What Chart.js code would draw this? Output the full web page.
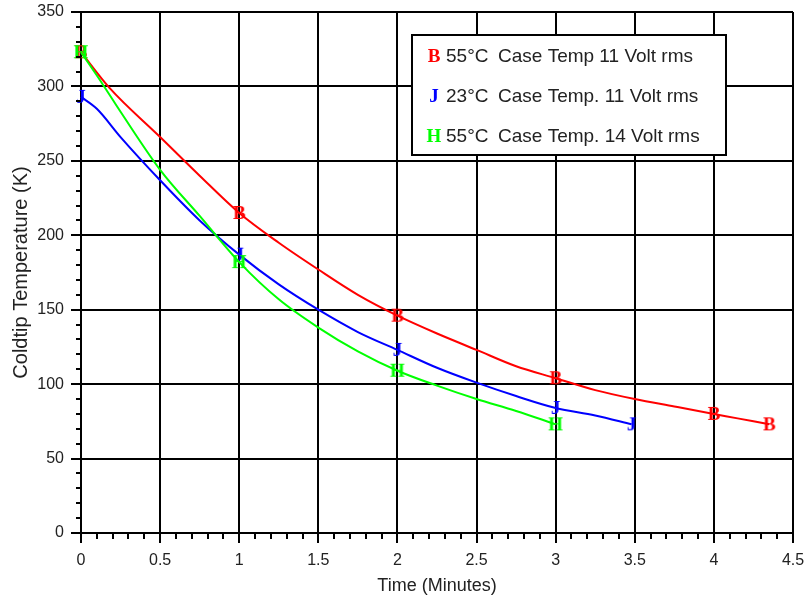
<!DOCTYPE html>
<html>
<head>
<meta charset="utf-8">
<script src="https://cdn.jsdelivr.net/npm/chart.js@4.4.1/dist/chart.umd.min.js"></script>
<style>
  body { margin: 0; background: #fff; }
  #wrap { width: 804px; height: 599px; }
</style>
</head>
<body>
<div id="wrap"><canvas id="chart" width="804" height="599"></canvas></div>
<script>
// time (minutes) vs coldtip temperature (K)
var redTime  = [0, 0.18, 0.5, 0.75, 1, 1.25, 1.5, 1.75, 2, 2.25, 2.5, 2.75, 3, 3.25, 3.5, 3.75, 4, 4.15, 4.35];
var redTemp  = [323, 299, 266, 240, 215, 195, 177, 160, 146, 134, 123, 112, 104, 96, 90, 85, 80, 77, 73];
var blueTime = [0, 0.1, 0.25, 0.5, 0.75, 1, 1.25, 1.5, 1.75, 2, 2.25, 2.5, 2.75, 3, 3.25, 3.48];
var blueTemp = [293, 285, 266, 237, 210, 187, 167, 150, 135, 123, 111, 101, 92, 84, 79, 73];
var greenTime = [0, 0.14, 0.25, 0.5, 0.75, 1, 1.25, 1.5, 1.75, 2, 2.25, 2.5, 2.75, 3];
var greenTemp = [323, 301, 283, 244, 213, 182, 157, 138, 122, 109, 99, 90, 82, 73];

// where the letter markers sit
var redMarks = [0, 1, 2, 3, 4, 4.35];
var blueMarks = [0, 1, 2, 3, 3.48];
var greenMarks = [0, 1, 2, 3];

// legend
var legendLetters = ["B", "J", "H"];
var legendColors = ["#ff0000", "#0000ff", "#00ff00"];
var legendTemps = ["55\u00b0C", "23\u00b0C", "55\u00b0C"];
var legendNotes = ["Case Temp 11 Volt rms", "Case Temp. 11 Volt rms", "Case Temp. 14 Volt rms"];

var SANS = "'Liberation Sans', Arial, sans-serif";
var SERIF = "'Liberation Serif', 'Times New Roman', serif";

function letterIcon(ch, color) {
  var c = document.createElement("canvas");
  c.width = 20; c.height = 20;
  var g = c.getContext("2d");
  g.font = "bold 19px " + SERIF;
  g.fillStyle = color;
  g.textAlign = "center";
  g.textBaseline = "middle";
  g.fillText(ch, 10, 11);
  return c;
}

function pts(xs, ys) {
  return xs.map(function (x, i) { return {x: x, y: ys[i]}; });
}

function series(xs, ys, marks, letter, color, order) {
  return {
    data: pts(xs, ys),
    borderColor: color,
    borderWidth: 2,
    fill: false,
    order: order,
    clip: false,
    cubicInterpolationMode: "monotone",
    pointStyle: letterIcon(letter, color),
    pointRadius: function (ctx) {
      return ctx.raw && marks.indexOf(ctx.raw.x) >= 0 ? 6 : 0;
    }
  };
}

// minor ticks + legend box
var extras = {
  id: "extras",
  afterDraw: function (chart) {
    var ctx = chart.ctx, xs = chart.scales.x, ys = chart.scales.y;
    var a = chart.chartArea;
    ctx.save();
    ctx.strokeStyle = "#000";
    ctx.lineWidth = 2;
    ctx.beginPath();
    for (var i = 1; i < 45; i++) {
      if (i % 5 === 0) continue;
      var px = Math.round(xs.getPixelForValue(i / 10));
      ctx.moveTo(px, a.bottom);
      ctx.lineTo(px, a.bottom + 6);
    }
    for (var j = 1; j < 35; j++) {
      if (j % 5 === 0) continue;
      var py = Math.round(ys.getPixelForValue(j * 10));
      ctx.moveTo(a.left - 5, py);
      ctx.lineTo(a.left, py);
    }
    ctx.stroke();

    // legend
    ctx.fillStyle = "#fff";
    ctx.fillRect(412, 35, 314, 120);
    ctx.lineWidth = 2;
    ctx.strokeRect(412, 35, 314, 120);
    ctx.textBaseline = "middle";
    for (var k = 0; k < legendLetters.length; k++) {
      var y = 57 + k * 40;
      ctx.font = "bold 19px " + SERIF;
      ctx.fillStyle = legendColors[k];
      ctx.textAlign = "center";
      ctx.fillText(legendLetters[k], 434, y);
      ctx.font = "19px " + SANS;
      ctx.fillStyle = "#222";
      ctx.textAlign = "left";
      ctx.fillText(legendTemps[k], 446, y);
      ctx.fillText(legendNotes[k], 498, y);
    }
    ctx.restore();
  }
};

function plainTick(v) { return String(v); }

new Chart("chart", {
  type: "line",
  data: {
    datasets: [
      series(redTime, redTemp, redMarks, "B", "#ff0000", 2),
      series(blueTime, blueTemp, blueMarks, "J", "#0000ff", 1),
      series(greenTime, greenTemp, greenMarks, "H", "#00ff00", 0)
    ]
  },
  options: {
    responsive: false,
    animation: false,
    events: [],
    layout: {padding: {top: 12, right: 11, left: 0, bottom: 0}},
    plugins: {legend: {display: false}, tooltip: {enabled: false}},
    scales: {
      x: {
        type: "linear",
        min: 0, max: 4.5,
        ticks: {stepSize: 0.5, color: "#222", padding: 8, font: {family: SANS, size: 16}, callback: plainTick},
        grid: {color: "#000", lineWidth: 2, tickLength: 10, tickColor: "#000"},
        border: {color: "#000", width: 2},
        title: {display: true, text: "Time (Minutes)", color: "#222", padding: {top: 0, bottom: 2}, font: {family: SANS, size: 18}},
        afterFit: function (s) { s.height = 66; s.paddingLeft = 0; s.paddingRight = 0; }
      },
      y: {
        min: 0, max: 350,
        ticks: {stepSize: 50, color: "#222", padding: 7, font: {family: SANS, size: 16}, callback: plainTick},
        grid: {color: "#000", lineWidth: 2, tickLength: 10, tickColor: "#000"},
        border: {color: "#000", width: 2},
        title: {display: true, text: "Coldtip Temperature (K)", color: "#222", padding: {top: 9, bottom: 0}, font: {family: SANS, size: 20}},
        afterFit: function (s) { s.width = 81; s.paddingTop = 0; s.paddingBottom = 0; }
      }
    }
  },
  plugins: [extras]
});
</script>
</body>
</html>
